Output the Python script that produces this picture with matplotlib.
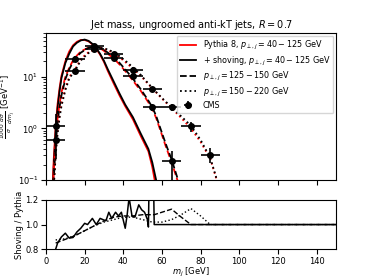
import matplotlib
matplotlib.use('Agg')
import matplotlib.pyplot as plt
import numpy as np

# mass grid for the MC histograms [GeV]
m_grid = [3, 4, 5, 6, 7, 8, 10, 12, 14, 16, 18, 20, 22, 25, 28, 30, 32, 35,
          38, 41, 45, 49, 53, 55, 57, 60, 62, 65, 68, 70, 75, 80, 85, 88, 90]

# pT 40-125 GeV
py_lo = [0.03, 0.25, 1.1, 3.0, 6.0, 10.5, 20, 31, 41, 48, 52, 52, 49, 40, 27,
         19.5, 13, 7.5, 4.4, 2.7, 1.5, 0.72, 0.36, 0.18, 0.07, 0.01, 0.01,
         0.01, 0.01, 0.01, 0.01, 0.01, 0.01, 0.01, 0.01]
sh_lo = [0.02, 0.18, 0.9, 2.5, 5.2, 9.5, 18.5, 28, 39, 46, 51, 53, 50, 41, 28,
         20.5, 14, 8.2, 4.8, 2.9, 1.65, 0.8, 0.4, 0.22, 0.1, 0.01, 0.01,
         0.01, 0.01, 0.01, 0.01, 0.01, 0.01, 0.01, 0.01]
# pT 125-150 GeV
py_mid = [0.02, 0.15, 0.6, 1.6, 3.0, 5.0, 10, 15, 21, 26, 31, 34, 37, 39, 36,
          32, 28, 23, 17.5, 13, 8.5, 5.4, 3.2, 2.4, 1.6, 0.75, 0.45, 0.22,
          0.1, 0.05, 0.01, 0.01, 0.01, 0.01, 0.01]
sh_mid = [0.015, 0.1, 0.5, 1.35, 2.6, 4.4, 9, 14, 19.5, 25, 29.5, 33, 36.5,
          39.5, 37, 33.5, 29.5, 24.5, 18.8, 14, 9.2, 5.8, 3.45, 2.6, 1.75,
          0.82, 0.5, 0.25, 0.11, 0.055, 0.01, 0.01, 0.01, 0.01, 0.01]
# pT 150-220 GeV
py_hi = [0.015, 0.08, 0.35, 0.9, 1.8, 3.0, 6.0, 10, 12.5, 16, 22, 26, 30, 34,
         36, 35, 33, 29, 24, 19.5, 14.5, 10.5, 7.2, 6.0, 5.0, 3.8, 3.2, 2.5,
         1.9, 1.6, 1.0, 0.55, 0.26, 0.11, 0.05]
sh_hi = [0.012, 0.07, 0.3, 0.8, 1.6, 2.7, 5.5, 9.2, 11.9, 15.3, 20.8, 24.7, 29,
         33.5, 36.5, 35.7, 34, 30.2, 25.3, 20.7, 15.3, 11, 7.4, 6.15, 5.1,
         3.9, 3.3, 2.6, 2.0, 1.72, 1.13, 0.6, 0.27, 0.115, 0.05]

# CMS data
cms_m_mid = [5, 15, 25, 35, 45, 55, 65]
cms_mid = [1.14, 22.5, 39, 23.5, 10.2, 2.6, 0.23]
cms_mid_lo = [0.55, 2.5, 4, 2.5, 1.2, 0.4, 0.2]
cms_mid_hi = [0.75, 2.5, 4, 2.5, 1.2, 0.4, 0.14]
cms_m_hi = [5, 15, 25, 35, 45, 55, 65, 75, 85]
cms_hi = [0.61, 12.9, 35, 28, 13.8, 5.8, 2.6, 1.1, 0.31]
cms_hi_lo = [0.35, 1.5, 4, 3, 1.5, 0.7, 0.4, 0.25, 0.1]
cms_hi_hi = [0.5, 1.5, 4, 3, 1.5, 0.7, 0.4, 0.25, 0.1]

# ratio shoving / pythia
r_m_lo = [5, 6, 8, 10, 12, 14, 16, 18, 20, 21.5, 24, 26, 28, 31, 32.5, 34, 36,
          37.5, 39, 41, 42, 43, 44.5, 46, 48, 49.5, 51, 52.5, 53, 53.5, 55.5,
          56, 150]
r_lo = [0.8, 0.85, 0.9, 0.93, 0.89, 0.895, 0.94, 0.97, 1.01, 1.0, 1.05, 1.0,
        1.05, 1.03, 1.1, 1.05, 1.1, 1.07, 1.1, 0.97, 1.08, 1.22, 1.07, 1.06,
        1.16, 1.12, 1.1, 1.04, 0.98, 1.5, 1.5, 1.0, 1.0]
r_m_mid = [5, 10, 15, 20, 25, 30, 35, 40, 45, 50, 56, 60, 65, 70, 75, 150]
r_mid = [0.85, 0.88, 0.91, 0.95, 0.99, 1.03, 1.06, 1.07, 1.07, 1.08, 1.08,
         1.1, 1.125, 1.06, 1.0, 1.0]
r_m_hi = [5, 10, 15, 20, 25, 30, 35, 40, 45, 50, 55, 60, 65, 70, 75, 80, 85,
          150]
r_hi = [0.875, 0.885, 0.91, 0.95, 0.99, 1.02, 1.04, 1.06, 1.06, 1.04, 1.02,
        1.02, 1.04, 1.08, 1.13, 1.07, 1.0, 1.0]

lw = 1.3
fig = plt.figure(figsize=(3.74, 2.8), dpi=100)
ax = fig.add_axes([0.123, 0.357, 0.775, 0.524])
axr = fig.add_axes([0.123, 0.110, 0.775, 0.176])

ax.plot(m_grid, py_lo, 'r-', lw=lw, label=r'Pythia 8, $p_{\perp,j} = 40 - 125$ GeV')
ax.plot(m_grid, sh_lo, 'k-', lw=lw, label=r'+ shoving, $p_{\perp,j} = 40 - 125$ GeV')
ax.plot(m_grid, py_mid, 'r--', lw=lw)
ax.plot(m_grid, sh_mid, 'k--', lw=lw, label=r'$p_{\perp,j} = 125 - 150$ GeV')
ax.plot(m_grid, py_hi, 'r:', lw=lw)
ax.plot(m_grid, sh_hi, 'k:', lw=lw, label=r'$p_{\perp,j} = 150 - 220$ GeV')
ax.errorbar(cms_m_mid, cms_mid, xerr=5, yerr=[cms_mid_lo, cms_mid_hi],
            fmt='o', color='k', ms=4, elinewidth=1.2, capsize=0, label='CMS')
ax.errorbar(cms_m_hi, cms_hi, xerr=5, yerr=[cms_hi_lo, cms_hi_hi],
            fmt='o', color='k', ms=4, elinewidth=1.2, capsize=0)

ax.set_yscale('log')
ax.set_xlim(0, 150)
ax.set_ylim(0.1, 70)
ax.set_xticks(np.arange(0, 150, 20))
ax.set_xticklabels([])
ax.tick_params(labelsize=6, pad=2)
ax.set_ylabel(r'$\frac{1000}{\sigma}\frac{d\sigma}{dm_j}$ [GeV$^{-1}$]', fontsize=6)
ax.yaxis.set_label_coords(-0.1, 0.5)
ax.set_title(r'Jet mass, ungroomed anti-kT jets, $R = 0.7$', fontsize=7, pad=4)
ax.legend(loc='upper right', fontsize=5.8, handlelength=2.0, labelspacing=0.3,
          borderaxespad=0.3, borderpad=0.4)

axr.plot(r_m_lo, r_lo, 'k-', lw=1.1)
axr.plot(r_m_mid, r_mid, 'k--', lw=1.0)
axr.plot(r_m_hi, r_hi, 'k:', lw=1.0)
axr.set_xlim(0, 150)
axr.set_ylim(0.8, 1.2)
axr.set_yticks([0.8, 1.0, 1.2])
axr.set_xticks(np.arange(0, 150, 20))
axr.tick_params(labelsize=6, pad=2)
axr.set_xlabel(r'$m_j$ [GeV]', fontsize=6, labelpad=0)
axr.set_ylabel('Shoving / Pythia', fontsize=6)
axr.yaxis.set_label_coords(-0.075, 0.5)

fig.savefig('out.png', dpi=100)
